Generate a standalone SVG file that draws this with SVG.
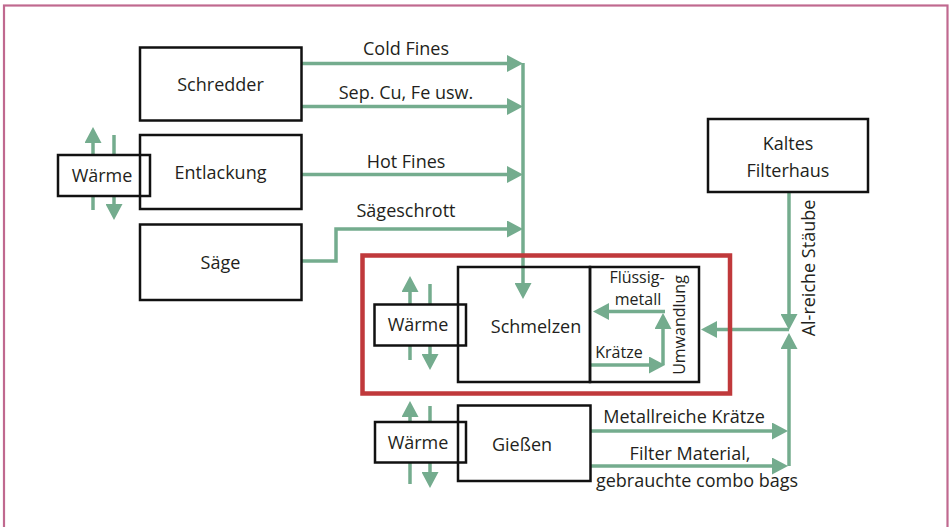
<svg xmlns="http://www.w3.org/2000/svg" width="950" height="527" viewBox="0 0 950 527">
<defs>
<style>
.box{fill:none;stroke:#111;stroke-width:2.5}
.wbox{fill:#fff;stroke:#111;stroke-width:2.5}
.t{font-family:"Open Sans","Noto Sans","Liberation Sans",sans-serif;font-size:18px;fill:#231f20;text-anchor:middle}
.s{font-size:16px}
.c{fill:none;stroke:#74ac8e;stroke-width:3.5;marker-end:url(#ah)}
</style>
<marker id="ah" markerUnits="userSpaceOnUse" markerWidth="17" markerHeight="17" refX="10" refY="8.5" orient="auto">
<path d="M0,0 L16,8.5 L0,17 z" fill="#74ac8e"/>
</marker>
</defs>
<rect width="950" height="527" fill="#fff"/>
<rect x="4" y="5.5" width="943.5" height="540" fill="none" stroke="#c0698f" stroke-width="2.2"/>

<g id="connectors">
<path class="c" d="M301,63.5 H517"/>
<path class="c" d="M301,106.5 H517"/>
<path class="c" d="M301,174.5 H517"/>
<path class="c" d="M301,261 H336 V229 H517"/>
<path class="c" d="M523,63 V293"/>
<path class="c" d="M93,210 V133"/>
<path class="c" d="M114,135 V214"/>
<path class="c" d="M410,360 V282"/>
<path class="c" d="M430,284 V364"/>
<path class="c" d="M410,484 V407"/>
<path class="c" d="M430,406 V482"/>
<path class="c" d="M665,311.5 H599"/>
<path class="c" d="M663,365 V319"/>
<path class="c" d="M590,365 H659"/>
<path class="c" d="M789,193 V324"/>
<path class="c" d="M789,466 V339"/>
<path class="c" d="M789,329.5 H707"/>
<path class="c" d="M590,431 H782"/>
<path class="c" d="M590,466 H782"/>
</g>

<g id="waerme1"><rect class="wbox" x="58" y="155" width="92" height="41"/><text class="t" x="102" y="181.5">Wärme</text></g>
<g id="waerme2"><rect class="wbox" x="374.5" y="304.5" width="91.5" height="41"/><text class="t" x="418" y="330.5">Wärme</text></g>
<g id="waerme3"><rect class="wbox" x="375" y="422" width="91" height="40.5"/><text class="t" x="418" y="448.5">Wärme</text></g>

<g id="schredder"><rect class="box" x="140" y="47.5" width="161.5" height="73"/><text class="t" x="220.5" y="91">Schredder</text></g>
<g id="entlackung"><rect class="box" x="140" y="135" width="161.5" height="74"/><text class="t" x="220.5" y="179">Entlackung</text></g>
<g id="saege"><rect class="box" x="140" y="224.5" width="161.5" height="75.5"/><text class="t" x="220.5" y="269">Säge</text></g>
<g id="kaltes"><rect class="box" x="708" y="119" width="160" height="73"/><text class="t" x="788" y="150">Kaltes<tspan x="788" y="177">Filterhaus</tspan></text></g>

<g id="schmelzrahmen"><rect x="362.5" y="255.5" width="367.5" height="138" fill="none" stroke="#c0393b" stroke-width="4.5"/></g>
<g id="schmelzen"><rect class="box" x="458" y="267" width="132" height="115"/><text class="t" x="536" y="333">Schmelzen</text></g>
<g id="umwandlung"><rect class="box" x="590" y="267" width="109" height="115"/>
<text class="t s" x="637" y="283">Flüssig-<tspan x="638" y="305">metall</tspan></text>
<text class="t s" x="619" y="358">Krätze</text>
<text class="t" style="font-size:16px" transform="translate(684.5,325) rotate(-90)">Umwandlung</text></g>
<g id="giessen"><rect class="box" x="458" y="405.5" width="132.5" height="75.5"/><text class="t" x="522" y="451">Gießen</text></g>

<g id="labels">
<text class="t" x="406" y="55">Cold Fines</text>
<text class="t" x="406" y="99">Sep. Cu, Fe usw.</text>
<text class="t" x="406" y="168">Hot Fines</text>
<text class="t" x="406" y="217">Sägeschrott</text>
<text class="t" transform="translate(815,268) rotate(-90)">Al-reiche Stäube</text>
<text class="t" x="684" y="423">Metallreiche Krätze</text>
<text class="t" x="690" y="460">Filter Material,<tspan x="697" y="487">gebrauchte combo bags</tspan></text>
</g>
</svg>
